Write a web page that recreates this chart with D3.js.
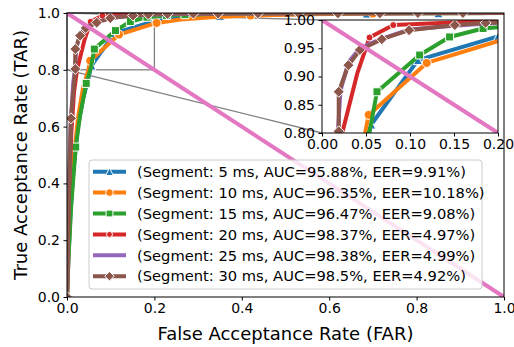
<!DOCTYPE html>
<html>
<head>
<meta charset="utf-8">
<script src="https://cdn.jsdelivr.net/npm/d3@7"></script>
<style>
  body { margin: 0; background: #fff; }
  text { font-family: "DejaVu Sans", sans-serif; fill: #000; }
</style>
</head>
<body>
<svg id="chart" width="514" height="347"></svg>
<script>
// legend text parts
var segments = ["5 ms", "10 ms", "15 ms", "20 ms", "25 ms", "30 ms"];
var aucs = ["95.88%", "96.35%", "96.47%", "98.37%", "98.38%", "98.5%"];
var eers = ["9.91%", "10.18%", "9.08%", "4.97%", "4.99%", "4.92%"];

// ROC points (FAR, TAR), and which points carry a marker
var far5  = [0, 0.003, 0.008, 0.015, 0.025, 0.037, 0.048, 0.056, 0.109, 0.2, 0.27, 0.35, 0.5, 0.686, 0.85, 1];
var tar5  = [0, 0.12, 0.30, 0.45, 0.60, 0.70, 0.765, 0.815, 0.929, 0.971, 0.983, 0.99, 0.996, 0.998, 0.999, 1];
var mark5 = [7, 8, 9, 11, 13, 14];

var far10  = [0, 0.003, 0.008, 0.015, 0.025, 0.037, 0.049, 0.053, 0.119, 0.205, 0.26, 0.33, 0.42, 0.55, 0.7, 1];
var tar10  = [0, 0.13, 0.32, 0.48, 0.63, 0.74, 0.80, 0.832, 0.924, 0.965, 0.977, 0.985, 0.991, 0.996, 0.998, 1];
var mark10 = [7, 8, 9, 12, 14];

var far15  = [0, 0.003, 0.01, 0.02, 0.03, 0.044, 0.055, 0.0625, 0.111, 0.145, 0.183, 0.228, 0.27, 0.35, 0.5, 1];
var tar15  = [0, 0.13, 0.33, 0.528, 0.64, 0.752, 0.81, 0.873, 0.938, 0.97, 0.985, 0.991, 0.994, 0.997, 0.999, 1];
var mark15 = [3, 5, 7, 8, 9, 10, 11, 12];

var far20  = [0, 0.004, 0.01, 0.016, 0.023, 0.04, 0.054, 0.081, 0.2, 0.4, 1];
var tar20  = [0, 0.35, 0.58, 0.72, 0.80, 0.905, 0.969, 0.991, 0.999, 1, 1];
var mark20 = [6, 7];

var far25  = [0, 0.003, 0.008, 0.014, 0.018, 0.021, 0.03, 0.043, 0.068, 0.099, 0.15, 0.2, 0.35, 0.6, 1];
var tar25  = [0, 0.3, 0.6, 0.75, 0.80, 0.875, 0.925, 0.95, 0.967, 0.983, 0.99, 0.995, 0.998, 0.999, 1];
var mark25 = [];

var far30  = [0, 0.002, 0.009, 0.019, 0.019, 0.030, 0.043, 0.068, 0.099, 0.151, 0.186, 0.23, 0.289, 0.346, 0.437, 0.53, 0.62, 0.716, 0.803, 0.906, 1];
var tar30  = [0, 0.2, 0.629, 0.803, 0.873, 0.920, 0.947, 0.966, 0.982, 0.991, 0.995, 0.997, 0.998, 0.998, 0.999, 0.999, 0.999, 0.999, 1, 1, 1];
var mark30 = [0, 2, 3, 4, 5, 6, 7, 8, 9, 10, 11, 12, 13, 14, 15, 16, 17, 18, 19];

var eerLineFar = [0, 1];
var eerLineTar = [1, 0];

var xTicks = [0, 0.2, 0.4, 0.6, 0.8, 1.0];
var yTicks = [0, 0.2, 0.4, 0.6, 0.8, 1.0];
var insetXTicks = [0, 0.05, 0.10, 0.15, 0.20];
var insetYTicks = [0.80, 0.85, 0.90, 0.95, 1.00];

var series = [
    { far: far5,  tar: tar5,  marks: mark5,  color: "#1f77b4", marker: "tri",  size: 9 },
    { far: far10, tar: tar10, marks: mark10, color: "#ff7f0e", marker: "circ", size: 9 },
    { far: far15, tar: tar15, marks: mark15, color: "#2ca02c", marker: "sq",   size: 8 },
    { far: far20, tar: tar20, marks: mark20, color: "#d62728", marker: "dot",  size: 7 },
    { far: far25, tar: tar25, marks: mark25, color: "#9467bd", marker: null,   size: 0 },
    { far: far30, tar: tar30, marks: mark30, color: "#8c564b", marker: "dia",  size: 10 }
];

function markerPath(kind, s) {
    var h = s / 2;
    if (kind == "tri") return "M0," + (-h) + "L" + h + "," + h + "L" + (-h) + "," + h + "Z";
    if (kind == "sq") return "M" + (-h) + "," + (-h) + "h" + s + "v" + s + "h" + (-s) + "Z";
    if (kind == "dia") return "M0," + (-h * 1.1) + "L" + (h * 1.1) + ",0L0," + (h * 1.1) + "L" + (-h * 1.1) + ",0Z";
    // circle and dot
    return d3.symbol(d3.symbolCircle, Math.PI * h * h)();
}

var svg = d3.select("#chart");

// main axes
var x = d3.scaleLinear().domain([0, 1]).range([67, 504]);
var y = d3.scaleLinear().domain([0, 1]).range([297, 13]);

svg.append("clipPath").attr("id", "mainClip")
    .append("rect")
    .attr("x", x(0)).attr("y", y(1))
    .attr("width", x(1) - x(0)).attr("height", y(0) - y(1));

// inset axes
var xi = d3.scaleLinear().domain([0, 0.2]).range([322, 498]);
var yi = d3.scaleLinear().domain([0.8, 1]).range([133, 20]);

svg.append("clipPath").attr("id", "insetClip")
    .append("rect")
    .attr("x", xi(0)).attr("y", yi(1))
    .attr("width", xi(0.2) - xi(0)).attr("height", yi(0.8) - yi(1));

function drawCurves(g, sx, sy) {
    var line = d3.line()
        .x(function(d) { return sx(d[0]); })
        .y(function(d) { return sy(d[1]); });

    series.forEach(function(s) {
        var pts = s.far.map(function(f, i) { return [f, s.tar[i]]; });
        g.append("path")
            .attr("d", line(pts))
            .attr("fill", "none")
            .attr("stroke", s.color)
            .attr("stroke-width", 4)
            .attr("stroke-linejoin", "round");
        if (s.marker) {
            g.selectAll(null)
                .data(s.marks.map(function(i) { return pts[i]; }))
                .enter().append("path")
                .attr("transform", function(d) { return "translate(" + sx(d[0]) + "," + sy(d[1]) + ")"; })
                .attr("d", markerPath(s.marker, s.size))
                .attr("fill", s.color)
                .attr("stroke", "#fff")
                .attr("stroke-width", 1);
        }
    });

    var diag = eerLineFar.map(function(f, i) { return [f, eerLineTar[i]]; });
    g.append("path")
        .attr("d", line(diag))
        .attr("fill", "none")
        .attr("stroke", "#e377c2")
        .attr("stroke-width", 4);
}

// zoom rectangle + connectors (under the curves)
svg.append("rect")
    .attr("x", x(0)).attr("y", y(1))
    .attr("width", x(0.2) - x(0)).attr("height", y(0.8) - y(1))
    .attr("fill", "none").attr("stroke", "#808080").attr("stroke-width", 1.3);
svg.append("line")
    .attr("x1", x(0)).attr("y1", y(1)).attr("x2", xi(0)).attr("y2", yi(1))
    .attr("stroke", "#808080").attr("stroke-width", 1.3);
svg.append("line")
    .attr("x1", x(0)).attr("y1", y(0.8)).attr("x2", xi(0)).attr("y2", yi(0.8))
    .attr("stroke", "#808080").attr("stroke-width", 1.3);

var mainG = svg.append("g").attr("clip-path", "url(#mainClip)");
drawCurves(mainG, x, y);

// main ticks
var xAxis = svg.append("g")
    .attr("transform", "translate(0," + y(0) + ")")
    .call(d3.axisBottom(x).tickValues(xTicks).tickFormat(d3.format(".1f")).tickSize(3.5).tickPadding(2.5));
var yAxis = svg.append("g")
    .attr("transform", "translate(" + x(0) + ",0)")
    .call(d3.axisLeft(y).tickValues(yTicks).tickFormat(d3.format(".1f")).tickSize(3.5).tickPadding(3.5));
[xAxis, yAxis].forEach(function(a) {
    a.select(".domain").remove();
    a.selectAll("text").style("font-size", "14px").attr("font-family", "DejaVu Sans").attr("fill", "#000");
    a.selectAll("line").attr("stroke", "#000");
});

svg.append("rect")
    .attr("x", x(0)).attr("y", y(1))
    .attr("width", x(1) - x(0)).attr("height", y(0) - y(1))
    .attr("fill", "none").attr("stroke", "#000").attr("stroke-width", 1);

svg.append("text")
    .attr("x", (x(0) + x(1)) / 2).attr("y", 340)
    .attr("text-anchor", "middle")
    .style("font-size", "18px")
    .text("False Acceptance Rate (FAR)");
svg.append("text")
    .attr("transform", "translate(27," + ((y(0) + y(1)) / 2) + ") rotate(-90)")
    .attr("text-anchor", "middle")
    .style("font-size", "18px")
    .text("True Acceptance Rate (TAR)");

// legend
var legend = svg.append("g");
legend.append("rect")
    .attr("x", 89).attr("y", 160).attr("width", 393).attr("height", 129)
    .attr("rx", 3)
    .attr("fill", "#fff").attr("fill-opacity", 0.8)
    .attr("stroke", "#cccccc").attr("stroke-width", 1);
series.forEach(function(s, i) {
    var ly = 171.7 + i * 20.9;
    legend.append("line")
        .attr("x1", 93).attr("x2", 126).attr("y1", ly).attr("y2", ly)
        .attr("stroke", s.color).attr("stroke-width", 4);
    if (s.marker) {
        legend.append("path")
            .attr("transform", "translate(109.5," + ly + ")")
            .attr("d", markerPath(s.marker, s.size * 0.85))
            .attr("fill", s.color).attr("stroke", "#fff").attr("stroke-width", 1);
    }
    legend.append("text")
        .attr("x", 137).attr("y", ly).attr("dy", "0.36em")
        .style("font-size", "14.7px")
        .text("(Segment: " + segments[i] + ", AUC=" + aucs[i] + ", EER=" + eers[i] + ")");
});

// inset
svg.append("rect")
    .attr("x", xi(0)).attr("y", yi(1))
    .attr("width", xi(0.2) - xi(0)).attr("height", yi(0.8) - yi(1))
    .attr("fill", "#fff");
var insetG = svg.append("g").attr("clip-path", "url(#insetClip)");
drawCurves(insetG, xi, yi);

var xiAxis = svg.append("g")
    .attr("transform", "translate(0," + yi(0.8) + ")")
    .call(d3.axisBottom(xi).tickValues(insetXTicks).tickFormat(d3.format(".2f")).tickSize(3.5).tickPadding(2.5));
var yiAxis = svg.append("g")
    .attr("transform", "translate(" + xi(0) + ",0)")
    .call(d3.axisLeft(yi).tickValues(insetYTicks).tickFormat(d3.format(".2f")).tickSize(3.5).tickPadding(3.5));
[xiAxis, yiAxis].forEach(function(a) {
    a.select(".domain").remove();
    a.selectAll("text").style("font-size", "14px").attr("font-family", "DejaVu Sans").attr("fill", "#000");
    a.selectAll("line").attr("stroke", "#000");
});
svg.append("rect")
    .attr("x", xi(0)).attr("y", yi(1))
    .attr("width", xi(0.2) - xi(0)).attr("height", yi(0.8) - yi(1))
    .attr("fill", "none").attr("stroke", "#000").attr("stroke-width", 1);
</script>
</body>
</html>
